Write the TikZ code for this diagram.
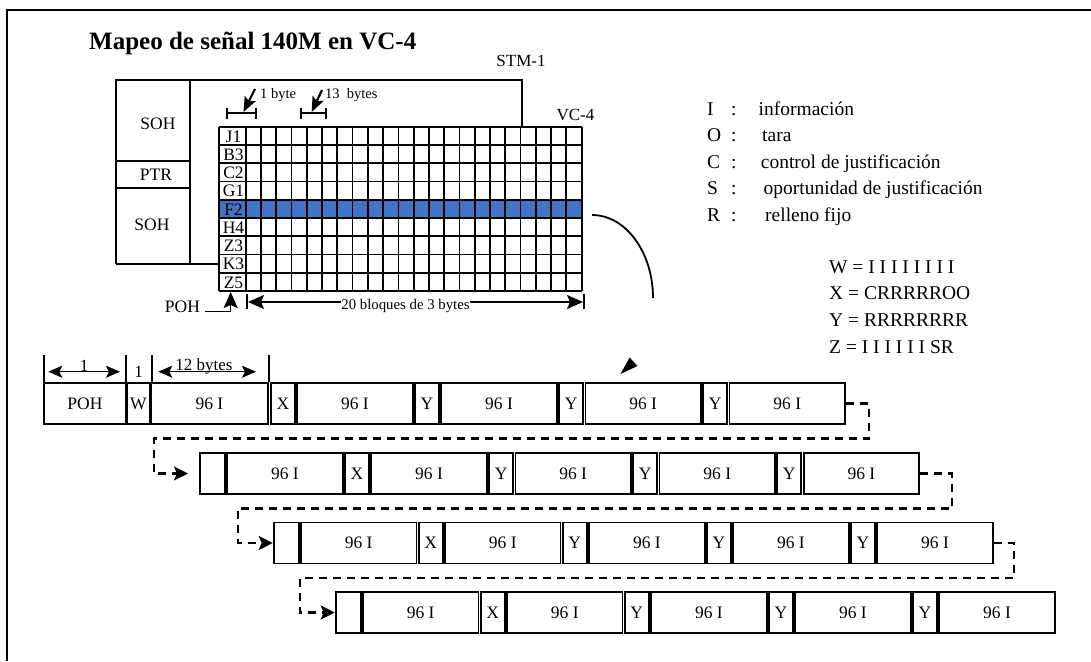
\documentclass[tikz,border=0pt]{standalone}
\usepackage{fontspec}
\setmainfont{Liberation Serif}
\usetikzlibrary{arrows.meta}
\definecolor{fblue}{RGB}{68,114,196}
\newcommand{\sz}[1]{\fontsize{#1}{#1}\selectfont}

\begin{document}
\begin{tikzpicture}[x=1pt,y=-1pt,
	cell/.style={draw, line width=1.8pt, minimum height=41pt, inner sep=0pt, anchor=west, font=\sz{17.5}},
	txt/.style={inner sep=0pt, font=\sz{17}},
	lw/.style={line width=1.8pt},
	dimarrow/.style={line width=1.4pt, -{Stealth[length=16pt,width=14pt,inset=3pt]}},
	dimboth/.style={line width=1.4pt, {Stealth[length=14pt,width=12pt,inset=3pt]}-{Stealth[length=14pt,width=12pt,inset=3pt]}},
	link/.style={line width=2.2pt, dash pattern=on 8pt off 6pt, -{Stealth[length=14pt,width=14pt,inset=3pt]}}]
	
	\useasboundingbox (0,0) rectangle (1091,661);
	
	%% -- frame and title --
	\draw[line width=2pt] (7,661) -- (7,10) -- (1091,10);
	\node[txt, font=\sz{25}\bfseries, anchor=west] (title) at (89,43) {Mapeo de señal 140M en VC-4};
	\node[txt] (stm) at (521,61) {STM-1};
	\node[txt] (vc) at (575.5,115) {VC-4};
	
	%% -- STM-1 frame --
	\draw[lw] (116,264) -- (116,80) -- (521.7,80) -- (521.7,126.7);
	\draw[lw] (190.2,80) -- (190.2,264);
	\draw[lw] (116,161) -- (190.2,161);
	\draw[lw] (116,188) -- (190.2,188);
	\draw[lw] (116,264) -- (219,264);
	\node[txt, font=\sz{17.5}] (soh1) at (158,124) {SOH};
	\node[txt, font=\sz{17.5}] (ptr) at (156,174.5) {PTR};
	\node[txt, font=\sz{17.5}] (soh2) at (152,225) {SOH};
	
	%% -- VC-4 grid --
	\fill[fblue] (219,200.9) rectangle (581.7,219.2);
	\foreach \j in {0,...,9}
	\draw[lw] (219,126.7+18.26*\j) -- (581.7,126.7+18.26*\j);
	\draw[lw] (219,126.7) -- (219,291);
	\foreach \i in {0,...,22}
	\draw[lw] (245.7+15.27*\i,126.7) -- (245.7+15.27*\i,291);
	\foreach \t [count=\k] in {J1,B3,C2,G1,F2,H4,Z3,K3,Z5}
	\node[txt, font=\sz{17.5}] (lab\t) at (233.5,126.7+18.26*\k-8.6) {\t};
	
	%% -- byte marks above the grid --
	\draw[lw] (226.7,113.3) -- (255.7,113.3);
	\draw[lw] (226.7,107.7) -- (226.7,119.3);
	\draw[lw] (255.7,107.7) -- (255.7,119.3);
	\draw[lw] (300.7,113.3) -- (326,113.3);
	\draw[lw] (300.7,107.7) -- (300.7,119.3);
	\draw[lw] (326,107.7) -- (326,119.3);
	\node[txt, font=\sz{14.5}, anchor=west] (onebyte) at (260,95) {1 byte};
	\node[txt, font=\sz{14.5}, anchor=west] (thirteen) at (325,95) {13\ \ bytes};
	\coordinate (bar1) at (243.5,112);
	\coordinate (bar2) at (311.7,112);
	\draw[line width=2.2pt, -{Stealth[length=15pt,width=12pt,inset=3pt]}] ([xshift=-5pt,yshift=6pt]onebyte.west) -- (bar1);
	\draw[line width=2.2pt, -{Stealth[length=15pt,width=12pt,inset=3pt]}] ([xshift=-3pt,yshift=5pt]thirteen.west) -- (bar2);
	
	%% -- POH pointer and block width --
	\node[txt, font=\sz{17.5}] (pohlab) at (182.5,307) {POH};
	\coordinate (z5) at (230.7,292);
	\draw[dimarrow] ([xshift=5pt,yshift=-4.5pt]pohlab.east) -| (z5);
	\node[txt, font=\sz{14.8}] (blq) at (405.5,306) {20 bloques de 3 bytes};
	\draw[dimarrow] ([yshift=4pt]blq.west) -- (248,302);
	\draw[dimarrow] ([yshift=4pt]blq.east) -- (583,302);
	\draw[lw] (247.3,294) -- (247.3,309);
	\draw[lw] (583.6,294) -- (583.6,309);
	
	%% -- F2 row leads down to the frames --
	\coordinate (f2r) at (592,215);
	\draw[line width=1.8pt] (f2r) .. controls (625.7,215) and (653,252.2) .. (653,298);
	\fill (629.6,357.5) -- (637.5,366) -- (620.5,374) -- cycle;
	
	%% -- legend --
	\foreach \l/\x/\t [count=\k] in {I/758.5/información, O/762/tara, C/760.7/control de justificación,
		S/763.5/oportunidad de justificación, R/765/relleno fijo}{
		\node[txt, font=\sz{19.5}, anchor=base west] (key\l) at (707,115+26.5*\k-26.5) {\l};
		\node[txt, font=\sz{19.5}, anchor=base west] (col\l) at (731,115+26.5*\k-26.5) {:};
		\node[txt, font=\sz{19.5}, anchor=base west] (def\l) at (\x,115+26.5*\k-26.5) {\t};
	}
	\node[txt, font=\sz{19.5}, anchor=base west] (eqW) at (829,273) {W = I I I I I I I I};
	\node[txt, font=\sz{19.5}, anchor=base west] (eqX) at (829,299.7) {X = CRRRRROO};
	\node[txt, font=\sz{19.5}, anchor=base west] (eqY) at (829,326.4) {Y = RRRRRRRR};
	\node[txt, font=\sz{19.5}, anchor=base west] (eqZ) at (829,353.1) {Z = I I I I I I SR};
	
	%% -- widths over the first frame --
	\foreach \x in {44,125.7,151.7,269}
	\draw[lw] (\x,355) -- (\x,381.7);
	\draw[dimboth] (48.3,371.7) -- (120,371.7);
	\draw[dimboth] (158.3,371.7) -- (256,371.7);
	\node[txt, anchor=base] (w1) at (84,371) {1};
	\node[txt] (w2) at (138.7,372) {1};
	\node[txt, anchor=base] (w12) at (204,370) {12 bytes};
	
	%% -- frames --
	\foreach \i/\x/\w/\t in {1/43/82/POH, 2/126/23/W, 3/150/117/96 I, 4/270/24/X, 5/296.3/115.5/96 I,
		6/414.1/24/Y, 7/440.4/115.5/96 I, 8/558.2/24/Y, 9/584.5/115.5/96 I, 10/702.3/24/Y, 11/728.6/115.5/96 I}
	\node[cell, minimum width=\w pt] (r1-\i) at (\x,403.5) {\t};
	
	\foreach \r/\s/\y in {2/199/473.5, 3/272.7/543, 4/334.7/612.5}
	\foreach \i/\dx/\w/\t in {1/0/25/{}, 2/27.3/115.5/96 I, 3/145.1/24/X, 4/171.4/115.5/96 I, 5/289.2/24/Y,
		6/315.5/115.5/96 I, 7/433.3/24/Y, 8/459.6/115.5/96 I, 9/577.4/24/Y, 10/603.7/115.5/96 I}
	\node[cell, minimum width=\w pt] (r\r-\i) at (\s+\dx,\y) {\t};
	
	%% -- continuation links --
	\draw[link, shorten >=11pt] (r1-11.east) -- ++(23,0) -- ++(0,35) -| ([xshift=-45pt]r2-1.west) -- (r2-1.west);
	\draw[link] (r2-10.east) -- ++(32,0) -- ++(0,35) -| ([xshift=-35pt]r3-1.west) -- (r3-1.west);
	\draw[link] (r3-10.east) -- ++(20,0) -- ++(0,35) -| ([xshift=-35pt]r4-1.west) -- (r4-1.west);
	
\end{tikzpicture}
\end{document}
